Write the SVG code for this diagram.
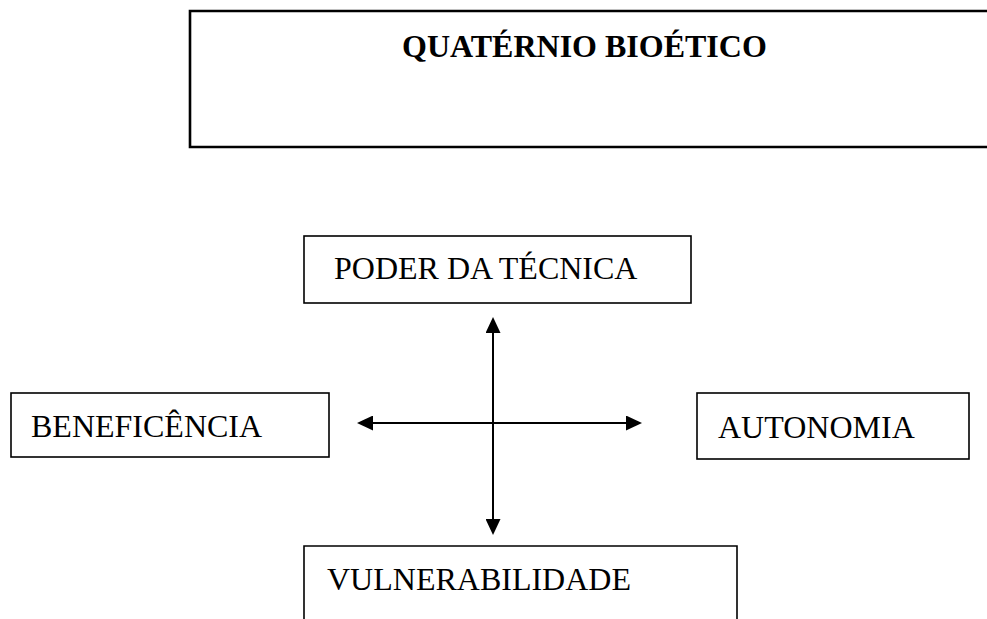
<svg xmlns="http://www.w3.org/2000/svg" width="987" height="619" viewBox="0 0 987 619">
  <style>
    .box { fill: none; stroke: #000; stroke-width: 1.6; }
    .title-box { fill: none; stroke: #000; stroke-width: 2.6; }
    .label { font-family: "Liberation Serif", "Times New Roman", serif; font-size: 32px; fill: #000; }
    .title { font-family: "Liberation Serif", "Times New Roman", serif; font-size: 32px; font-weight: bold; fill: #000; }
    .conn { stroke: #000; stroke-width: 2; fill: none; }
  </style>
  <defs>
    <marker id="arrow" viewBox="0 0 16 15" refX="5" refY="7.5" markerWidth="16" markerHeight="15" markerUnits="userSpaceOnUse" orient="auto-start-reverse">
      <path d="M0,0 L16,7.5 L0,15 z" fill="#000"/>
    </marker>
  </defs>
  <rect width="987" height="619" fill="#fff"/>

  <g id="title">
    <path class="title-box" d="M1000,11 H190 V147 H1000"/>
    <text class="title" x="402" y="57">QUATÉRNIO BIOÉTICO</text>
  </g>

  <g id="poder-da-tecnica">
    <rect class="box" x="304" y="236" width="387" height="67"/>
    <text class="label" x="334" y="279">PODER DA TÉCNICA</text>
  </g>

  <g id="beneficencia">
    <rect class="box" x="11" y="393" width="318" height="64"/>
    <text class="label" x="31" y="437">BENEFICÊNCIA</text>
  </g>

  <g id="autonomia">
    <rect class="box" x="697" y="393" width="272" height="66"/>
    <text class="label" x="718" y="438">AUTONOMIA</text>
  </g>

  <g id="vulnerabilidade">
    <path class="box" d="M304,625 V546 H737 V625"/>
    <text class="label" x="327" y="590">VULNERABILIDADE</text>
  </g>

  <g id="connectors">
    <line class="conn" x1="493" y1="328" x2="493" y2="524" marker-start="url(#arrow)" marker-end="url(#arrow)"/>
    <line class="conn" x1="368" y1="423" x2="631" y2="423" marker-start="url(#arrow)" marker-end="url(#arrow)"/>
  </g>
</svg>
